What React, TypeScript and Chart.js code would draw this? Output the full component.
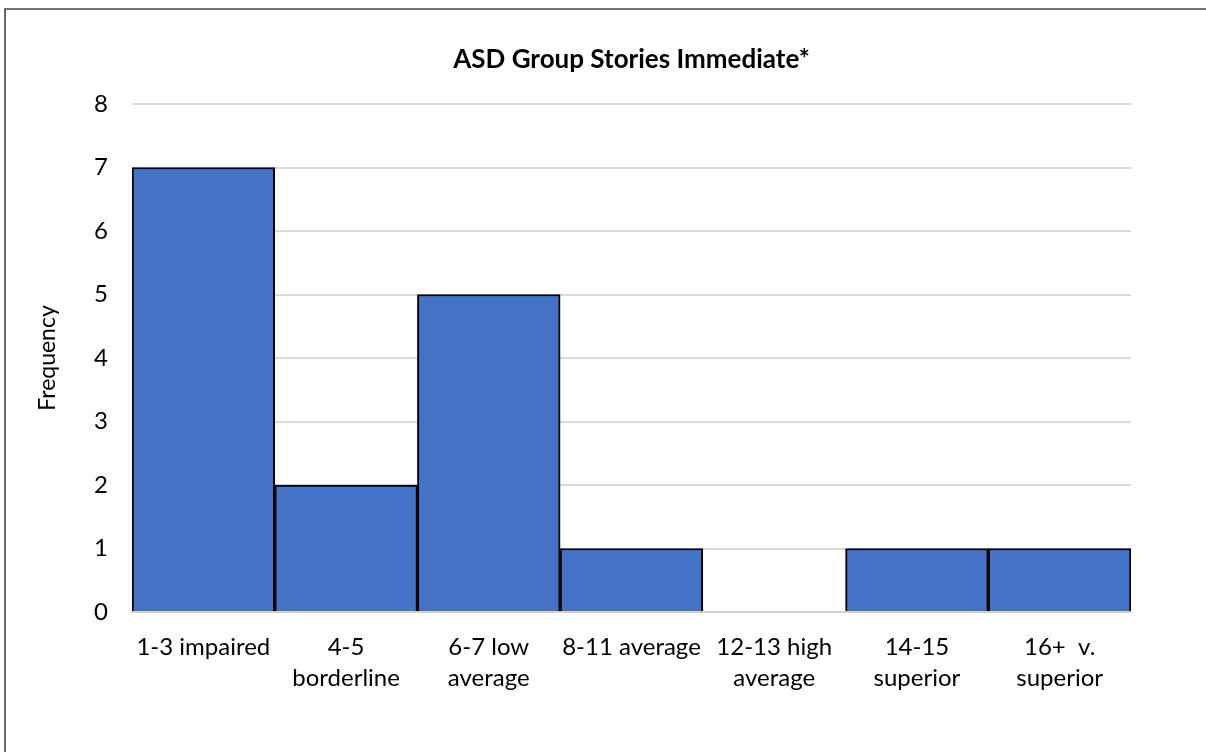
import React, { useEffect, useRef } from "react";
import { Chart, registerables } from "chart.js";

Chart.register(...registerables);

const categories: (string | string[])[] = [
  "1-3 impaired",
  ["4-5", "borderline"],
  ["6-7 low", "average"],
  "8-11 average",
  ["12-13 high", "average"],
  ["14-15", "superior"],
  ["16+  v.", "superior"],
];
const frequencies = [7, 2, 5, 1, 0, 1, 1];
const yTicks = [0, 1, 2, 3, 4, 5, 6, 7, 8];

const chartTitle = "ASD Group Stories Immediate*";
const yTitle = "Frequency";
const FONT = "Lato, 'Open Sans', sans-serif";

const framePlugin = {
  id: "frame",
  beforeDraw(chart: any) {
    const ctx = chart.ctx;
    ctx.save();
    ctx.fillStyle = "#ffffff";
    ctx.fillRect(0, 0, chart.width, chart.height);
    ctx.strokeStyle = "#454545";
    ctx.lineWidth = 1.6;
    ctx.beginPath();
    ctx.moveTo(5, chart.height);
    ctx.lineTo(5, 9);
    ctx.lineTo(chart.width, 9);
    ctx.stroke();
    ctx.restore();
  },
};

export default function App() {
  const ref = useRef<HTMLCanvasElement | null>(null);
  useEffect(() => {
    if (!ref.current) return;
    const chart = new Chart(ref.current, {
      type: "bar",
      data: {
        labels: categories,
        datasets: [
          {
            label: "Frequency",
            data: frequencies,
            backgroundColor: "#4472C4",
            borderColor: "#000000",
            borderWidth: 2,
            borderSkipped: "bottom",
            categoryPercentage: 1,
            barPercentage: 1,
          },
        ],
      },
      options: {
        responsive: false,
        animation: false,
        layout: { padding: { left: 0, right: 75, top: 0, bottom: 0 } },
        plugins: {
          legend: { display: false },
          tooltip: { enabled: false },
          title: {
            display: true,
            text: chartTitle,
            fullSize: false,
            color: "#000000",
            font: { family: FONT, size: 26, weight: "bold", lineHeight: 1.2 },
            padding: { top: 44.4, bottom: 28.4 },
          },
        },
        scales: {
          x: {
            grid: { display: false, drawTicks: false },
            border: { display: true, color: "#d0d0d0", width: 2 },
            ticks: {
              color: "#000000",
              font: { family: FONT, size: 24, lineHeight: 1.3 },
              padding: 19.5,
              maxRotation: 0,
              autoSkip: false,
            },
            afterFit(scale: any) {
              scale.height = 140;
            },
          },
          y: {
            min: 0,
            max: 8,
            afterBuildTicks(scale: any) {
              scale.ticks = yTicks.map((v) => ({ value: v }));
            },
            grid: { color: "#d9d9d9", lineWidth: 2, drawTicks: false },
            border: { display: false },
            ticks: {
              color: "#000000",
              font: { family: FONT, size: 24 },
              padding: 24,
            },
            title: {
              display: true,
              text: yTitle,
              color: "#000000",
              font: { family: FONT, size: 23, lineHeight: 1.2 },
              padding: { top: 34, bottom: 0 },
            },
            afterFit(scale: any) {
              scale.width = 132;
            },
          },
        },
      },
      plugins: [framePlugin],
    });
    return () => chart.destroy();
  }, []);
  return (
    <canvas
      ref={ref}
      width={1206}
      height={752}
      style={{ position: "absolute", left: 0, top: 0, width: 1206, height: 752 }}
    />
  );
}
